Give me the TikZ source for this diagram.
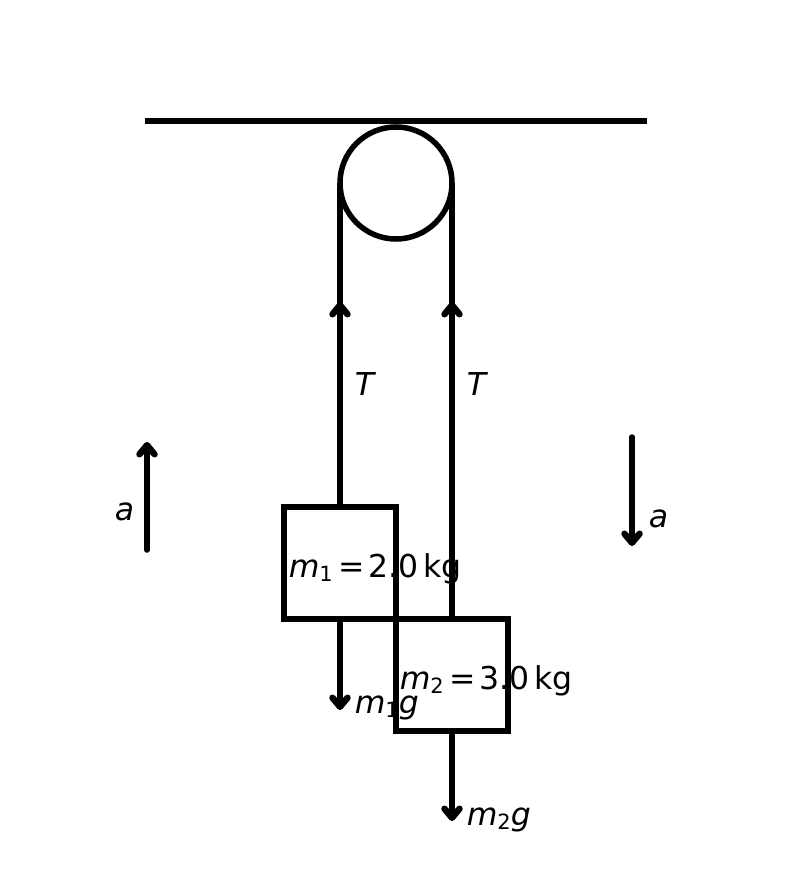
\documentclass[tikz,border=0pt]{standalone}
\usepackage{fontspec}
\setmainfont{DejaVu Sans}
\usetikzlibrary{arrows.meta}
\newcommand{\vsym}[1]{\textit{#1}}
\newcommand{\lowsub}[1]{\raisebox{-0.14em}{\fontsize{21}{21}\selectfont #1}}
\newcommand{\eqsign}{\hspace{6pt}=\hspace{3pt}}

\begin{document}
\begin{tikzpicture}[x=1pt, y=-1pt,
    line width=5.5pt,
    every node/.style={inner sep=0pt, anchor=base west, font=\fontsize{31.5}{34}\selectfont},
    force/.style={-{Straight Barb[length=9pt, width=15pt, round, line width=6.5pt]}, line cap=round},
    block/.style={draw, line join=miter}]
    \useasboundingbox (0,0) rectangle (791,890);

    % labels first, the lines go over them
    \node (T1)  at (352,395) {\vsym{T}};
    \node (T2)  at (464,395) {\vsym{T}};
    \node (aL)  at (112,520) {\vsym{a}};
    \node (aR)  at (646,527) {\vsym{a}};
    \node (w1)  at (352,713) {\vsym{m}\lowsub{1}\vsym{g}};
    \node (w2)  at (464,825) {\vsym{m}\lowsub{2}\vsym{g}};
    \node (lab1) at (286,577) {\vsym{m}\lowsub{1}\eqsign 2.0\,kg};
    \node (lab2) at (397,689) {\vsym{m}\lowsub{2}\eqsign 3.0\,kg};

    % ceiling and pulley
    \coordinate (ceilL) at (145,121);
    \coordinate (ceilR) at (647,121);
    \draw (ceilL) -- (ceilR);
    \coordinate (hub) at (396,183);
    \draw (hub) circle (56);

    % blocks
    \draw[block] (284,507) rectangle (396,619);
    \draw[block] (396,619) rectangle (508,731);
    \coordinate (top1) at (340,507);
    \coordinate (top2) at (452,619);
    \coordinate (bot1) at (340,623);
    \coordinate (bot2) at (452,735);

    % ropes
    \draw (hub -| top1) -- (top1);
    \draw (hub -| top2) -- (top2);

    % forces
    \draw[force] (340,420) -- (340,302);
    \draw[force] (452,420) -- (452,302);
    \draw[force] (bot1) -- (340,710);
    \draw[force] (bot2) -- (452,821);
    \draw[force] (147,550) -- (147,442);
    \draw[force] (632,437) -- (632,546);
\end{tikzpicture}
\end{document}
